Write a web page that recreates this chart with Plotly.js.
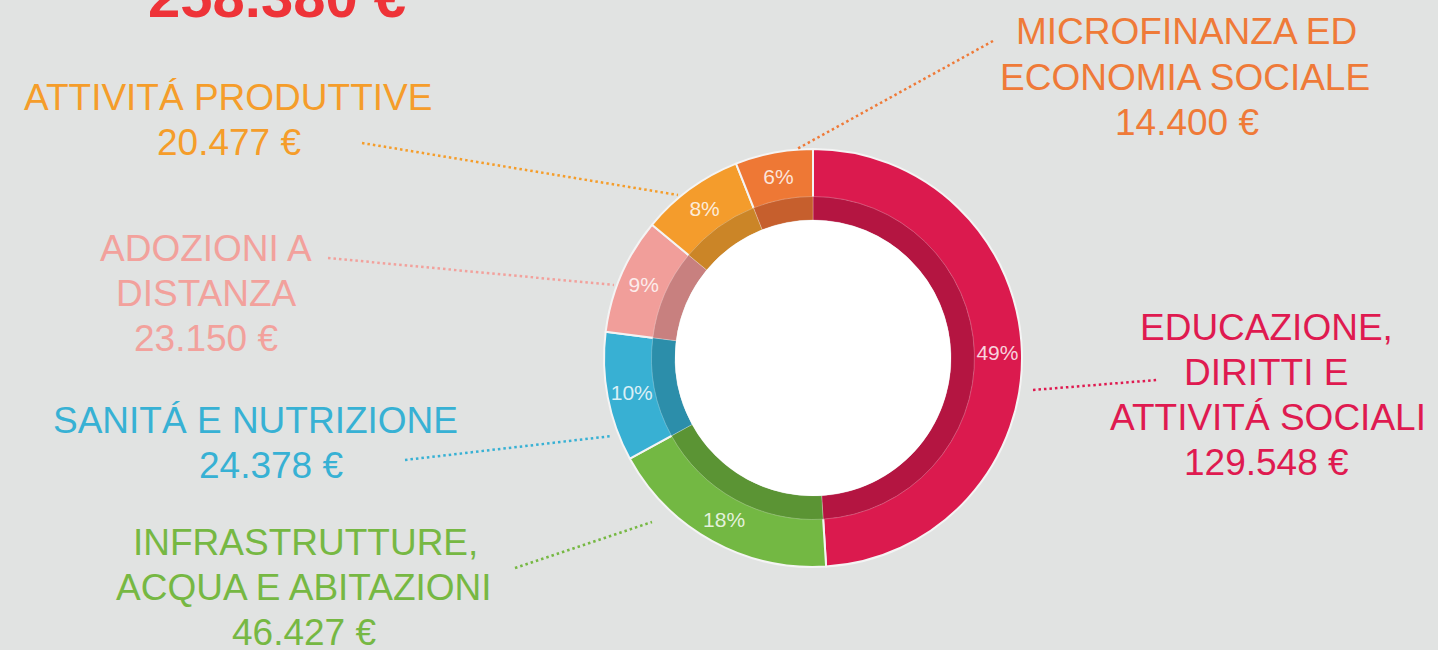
<!DOCTYPE html>
<html>
<head>
<meta charset="utf-8">
<script src="https://cdn.plot.ly/plotly-3.0.1.min.js"></script>
<style>
html,body{margin:0;padding:0;background:#E1E3E2;}
#chart{width:1438px;height:650px;}
</style>
</head>
<body>
<div id="chart"></div>
<script>
// ---- data ----
const categories = [
  'EDUCAZIONE, DIRITTI E ATTIVITÁ SOCIALI',
  'INFRASTRUTTURE, ACQUA E ABITAZIONI',
  'SANITÁ E NUTRIZIONE',
  'ADOZIONI A DISTANZA',
  'ATTIVITÁ PRODUTTIVE',
  'MICROFINANZA ED ECONOMIA SOCIALE'
];
const labelLines = [
  ['EDUCAZIONE,', 'DIRITTI E', 'ATTIVITÁ SOCIALI'],
  ['INFRASTRUTTURE,', 'ACQUA E ABITAZIONI'],
  ['SANITÁ E NUTRIZIONE'],
  ['ADOZIONI A', 'DISTANZA'],
  ['ATTIVITÁ PRODUTTIVE'],
  ['MICROFINANZA ED', 'ECONOMIA SOCIALE']
];
const percents = [49, 18, 10, 9, 8, 6];
const amounts = [129548, 46427, 24378, 23150, 20477, 14400];

// ---- styles ----
const W = 1438, H = 650;
const FONT = 'Liberation Sans, Arial, sans-serif';
const sliceColors = ['#DB1A4E', '#73B843', '#38B0D3', '#F19E9A', '#F49C2C', '#EE7835'];
const bandColors  = ['#B41541', '#5B9434', '#2C8EAA', '#C8807F', '#CB8527', '#C65F2D'];
const textColors  = ['#DF1A50', '#76B843', '#37B1D4', '#F2A19C', '#F59D2A', '#EF7A38'];
const center = [813, 358];
const rOuter = 209, rBand = 160, rHole = 138;
// label line positions [x, y] in px (per category, per line incl. amount line)
const labelPos = [
  [[1266, 327], [1266, 372], [1268, 417], [1266, 462]],
  [[305, 542], [304, 587], [304, 632]],
  [[255, 420], [271, 465]],
  [[206, 248], [206, 293], [206, 338]],
  [[228, 97], [229, 142]],
  [[1186, 32], [1185, 77], [1187, 122]]
];
// leader lines [x0,y0,x1,y1] in px
const leaders = [
  [1033, 390, 1157, 380],
  [515, 568, 652, 522],
  [405, 460, 612, 436],
  [328, 258, 614, 285],
  [362, 143, 678, 195],
  [993, 41, 797, 149]
];

function fmt(n) { return n.toString().replace(/\B(?=(\d{3})+(?!\d))/g, '.') + ' €'; }
const px = x => x / W;
const py = y => 1 - y / H;
function dom(r) {
  return { x: [px(center[0] - r), px(center[0] + r)], y: [py(center[1] + r), py(center[1] - r)] };
}

const total = amounts.reduce((a, b) => a + b, 0);

const outer = {
  type: 'pie', values: percents, labels: categories, sort: false,
  direction: 'clockwise', rotation: 0, hole: rBand / rOuter,
  domain: dom(rOuter),
  marker: { colors: sliceColors, line: { color: '#F4F4F4', width: 2 } },
  texttemplate: '%{value}%', textposition: 'inside', insidetextorientation: 'horizontal',
  textfont: { family: FONT, size: 21, color: 'rgba(255,255,255,0.82)' },
  hoverinfo: 'skip', showlegend: false
};
const band = {
  type: 'pie', values: percents, labels: categories, sort: false,
  direction: 'clockwise', rotation: 0, hole: rHole / (rBand + 1.5),
  domain: dom(rBand + 1.5),
  marker: { colors: bandColors, line: { color: 'rgba(255,255,255,0.25)', width: 1 } },
  textinfo: 'none', hoverinfo: 'skip', showlegend: false
};
const disk = {
  type: 'pie', values: [1], labels: ['centro'], sort: false,
  domain: dom(rHole),
  marker: { colors: ['#FFFFFF'], line: { width: 0 } },
  textinfo: 'none', hoverinfo: 'skip', showlegend: false
};

const annotations = [];
categories.forEach((c, i) => {
  const lines = labelLines[i].concat([fmt(amounts[i])]);
  lines.forEach((t, j) => {
    const p = labelPos[i][j];
    annotations.push({
      xref: 'paper', yref: 'paper', x: px(p[0]), y: py(p[1]),
      xanchor: 'center', yanchor: 'middle', showarrow: false, text: t,
      font: { family: FONT, size: 37, color: textColors[i] }
    });
  });
});
annotations.push({
  xref: 'paper', yref: 'paper', x: px(277), y: py(-3), xanchor: 'center', yanchor: 'middle',
  showarrow: false, text: '<b>' + fmt(total) + '</b>',
  font: { family: FONT, size: 58, color: '#EE3338' }
});

const shapes = leaders.map((l, i) => ({
  type: 'line', xref: 'paper', yref: 'paper',
  x0: px(l[0]), y0: py(l[1]), x1: px(l[2]), y1: py(l[3]),
  line: { color: textColors[i], width: 2.5, dash: '2.5px,3px' }
}));

const layout = {
  width: W, height: H,
  margin: { l: 0, r: 0, t: 0, b: 0 },
  paper_bgcolor: '#E1E3E2', plot_bgcolor: '#E1E3E2',
  annotations: annotations, shapes: shapes
};

Plotly.newPlot('chart', [outer, band, disk], layout, { displayModeBar: false, staticPlot: true });
</script>
</body>
</html>
